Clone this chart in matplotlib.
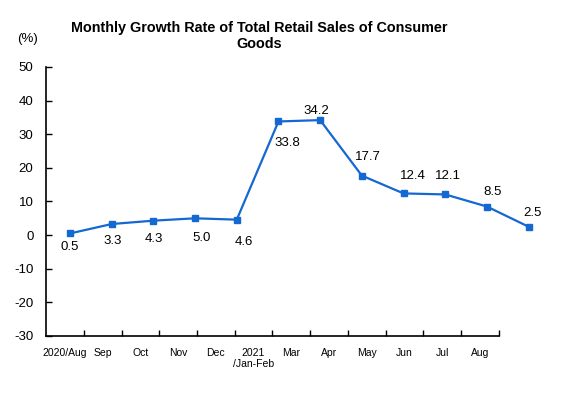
import matplotlib.pyplot as plt
from matplotlib import font_manager

categories = ['2020/Aug', 'Sep', 'Oct', 'Nov', 'Dec', '2021\n/Jan-Feb',
              'Mar', 'Apr', 'May', 'Jun', 'Jul', 'Aug']
growth = [0.5, 3.3, 4.3, 5.0, 4.6, 33.8, 34.2, 17.7, 12.4, 12.1, 8.5, 2.5]
# label offsets in pixels (dx, dy) relative to each point
label_offsets = [(0, -14), (1, -17), (0, -18), (7, -20), (7, -22), (9, -22),
                 (-4, 9), (6, 19), (9, 17), (3, 18), (6, 15), (4, 14)]

names = {f.name for f in font_manager.fontManager.ttflist}
narrow = 'Liberation Sans Narrow' if 'Liberation Sans Narrow' in names else 'Liberation Sans'
plt.rcParams['font.family'] = ['Liberation Sans', 'DejaVu Sans']
plt.rcParams['axes.unicode_minus'] = False

fig = plt.figure(figsize=(5.78, 3.99), dpi=100)
ax = fig.add_axes([0.0796, 0.1579, 0.7837, 0.6742])

n = len(categories)
ax.set_xlim(0, n)
ax.set_ylim(-30, 50)
ax.set_yticks(range(-30, 51, 10))
ax.set_xticks(range(1, n + 1))
ax.set_xticklabels([])
ax.set_xticks([i + 0.5 for i in range(n)], minor=True)
ax.set_xticklabels(categories, minor=True, fontsize=7.5 if narrow == 'Liberation Sans' else 8,
                   family=narrow, linespacing=1.1)
ax.tick_params(axis='x', which='major', direction='in', length=4, width=1)
ax.tick_params(axis='x', which='minor', length=0, pad=9)
ax.tick_params(axis='y', direction='in', length=4, width=1, labelsize=9.5, pad=9)
for s in ['top', 'right']:
    ax.spines[s].set_visible(False)
for s in ['left', 'bottom']:
    ax.spines[s].set_linewidth(1.2)

# the line in the original is drawn on a slightly wider category scale
ax2 = ax.twiny()
ax2.set_xlim(-0.576, 10.29)
ax2.set_ylim(-30, 50)
ax2.axis('off')
ax2.plot(range(n), growth, color='#1468d2', linewidth=1.6, marker='s',
         markersize=4, clip_on=False)
for i, (v, (dx, dy)) in enumerate(zip(growth, label_offsets)):
    ax2.annotate(f'{v:.1f}', (i, v), xytext=(dx, dy), textcoords='offset pixels',
                 ha='center', va='center', fontsize=9.5, annotation_clip=False)

fig.text(0.448, 0.910, 'Monthly Growth Rate of Total Retail Sales of Consumer\nGoods',
         ha='center', va='center', fontsize=10.4, fontweight='bold', linespacing=1.15)
fig.text(0.048, 0.903, '(%)', ha='center', va='center', fontsize=9.5)

fig.savefig('out.png', dpi=100)
